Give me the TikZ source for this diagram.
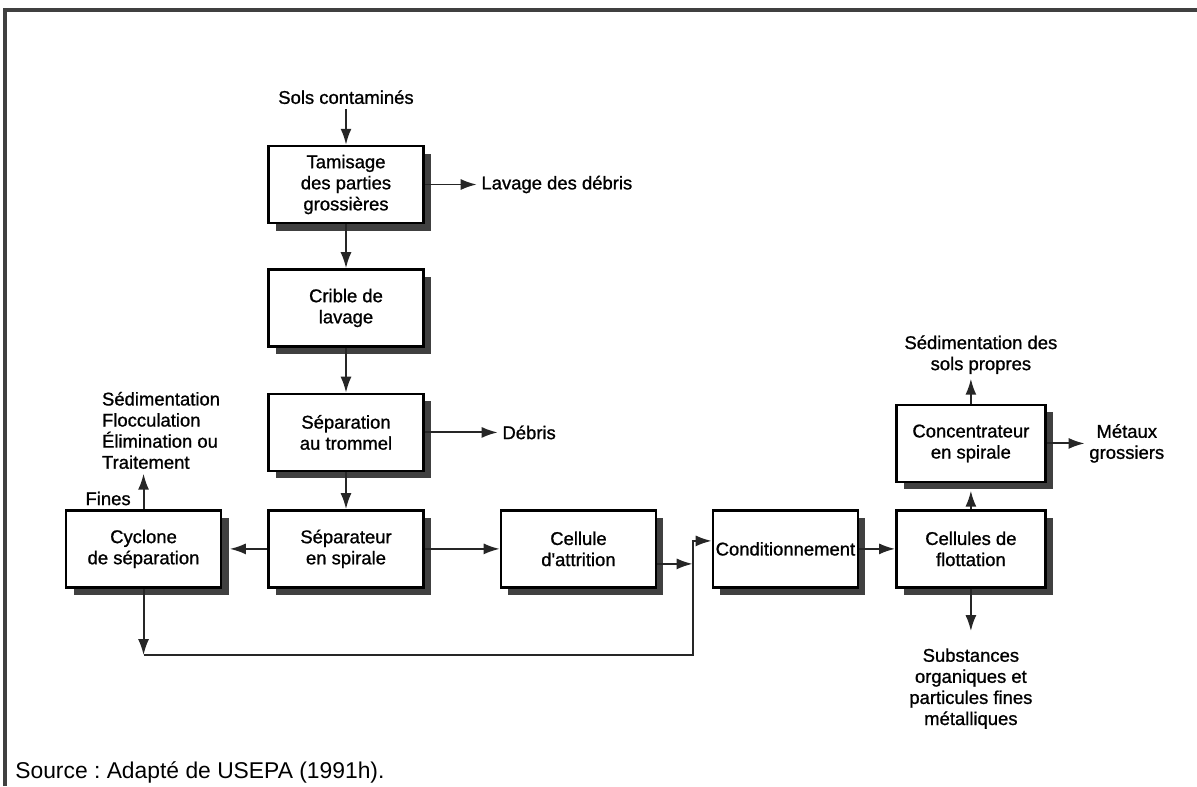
\documentclass[tikz,border=0pt]{standalone}
\usepackage{fontspec}
\setmainfont{Liberation Sans}
\newfontfamily\labelfont{Liberation Sans}[FakeBold=1]
\usetikzlibrary{positioning, shadows, arrows.meta}

\begin{document}
\begin{tikzpicture}[
        stage_box/.style={rectangle, draw=black, fill=white, line width=1.4pt, minimum width=31mm, minimum height=15.4mm, align=center, inner sep=1mm, font=\labelfont\fontsize{10.5}{12}\selectfont, drop shadow={shadow xshift=1.5mm, shadow yshift=-1.5mm, fill=black!75, opacity=1}},
        out_label/.style={align=center, inner sep=2.5pt, font=\labelfont\fontsize{10.5}{12}\selectfont},
        flow/.style={draw=black!85, line width=1.1pt, -{Latex[length=3.2mm, width=2.2mm]}},
        ]
            \useasboundingbox (0,0) rectangle (239.4mm,-157.2mm);
            % frame
            \draw[black!75, line width=0.8mm] (1mm,-157.2mm) |- (239.4mm,-2mm);

            % main column
            \node[stage_box]    (tamisage)    at (69.2mm,-36.9mm)                {Tamisage\\des parties\\grossières};
            \node[stage_box]    (crible)      [below = 8.8mm of tamisage]        {Crible de\\lavage};
            \node[stage_box]    (trommel)     [below = 9mm of crible]            {Séparation\\au trommel};
            \node[stage_box]    (separateur)  [below = 7.4mm of trommel]         {Séparateur\\en spirale};
            % side boxes
            \node[stage_box]    (cyclone)     [left  = 9mm of separateur]        {Cyclone\\de séparation};
            \node[stage_box]    (attrition)   [right = 15mm of separateur]       {Cellule\\d'attrition};
            \node[stage_box, minimum width=29mm, inner xsep=0.3mm]
                                (conditionnement) [right = 10.9mm of attrition]  {Conditionnement};
            \node[stage_box, minimum width=29.8mm]
                                (flottation)  [right = 7.2mm of conditionnement] {Cellules de\\flottation};
            \node[stage_box, minimum width=29.8mm]
                                (concentrateur) [above = 5.2mm of flottation]    {Concentrateur\\en spirale};

            % inputs and outputs
            \node[out_label]    (sols)        [above = 7.2mm of tamisage]        {Sols contaminés};
            \node[out_label]    (lavage)      [right = 10.4mm of tamisage]       {Lavage des débris};
            \node[out_label]    (debris)      [right = 14.6mm of trommel]        {Débris};
            \node[out_label, align=left]
                                (traitement)  [above = 7.1mm of cyclone, xshift=3.5mm] {Sédimentation\\Flocculation\\Élimination ou\\Traitement};
            \node[out_label]    (propres)     [above = 5mm of concentrateur, xshift=2mm] {Sédimentation des\\sols propres};
            \node[out_label]    (metaux)      [right = 7.6mm of concentrateur]   {Métaux\\grossiers};
            \node[out_label]    (substances)  [below = 11mm of flottation]       {Substances\\organiques et\\particules fines\\métalliques};
            \node[anchor=base west, inner sep=0pt, font=\fontsize{13}{15}\selectfont]
                                (source)      at (3mm,-155.6mm)                  {\frenchspacing Source : Adapté de USEPA (1991h).};

            % junctions
            \coordinate[below = 13.3mm of cyclone.south]  (loop_low);
            \coordinate[right = 7.1mm of attrition.east]  (junction);

            % Lines
            \draw[flow] (sols) -- (tamisage);
            \draw[flow] (tamisage) -- (lavage);
            \draw[flow] (tamisage) -- (crible);
            \draw[flow] (crible) -- (trommel);
            \draw[flow] (trommel) -- (debris);
            \draw[flow] (trommel) -- (separateur);
            \draw[flow] (separateur.west) -- ([xshift=1.5mm]cyclone.east);
            \draw[flow] (separateur) -- (attrition);
            \draw[flow] (cyclone.north) -- node[out_label, pos=0.3, left=1.5mm] {Fines} (cyclone.north |- traitement.south);

            % return loop
            \draw[flow] (cyclone.south) -- (loop_low);
            \draw[flow] (loop_low) -| ([yshift=1.6mm]junction) -- ([yshift=1.6mm]conditionnement.west);
            \draw[flow] ([yshift=-3mm]attrition.east) -- ([yshift=-3mm]junction);

            % flotation
            \draw[flow] (conditionnement) -- (flottation);
            \draw[flow] (flottation.north) -- ([yshift=-1.5mm]concentrateur.south);
            \draw[flow] (concentrateur.north) -- (concentrateur.north |- propres.south);
            \draw[flow] (concentrateur) -- (metaux);
            \draw[flow, shorten >=2.5mm] (flottation.south) -- (substances);

\end{tikzpicture}
\end{document}
